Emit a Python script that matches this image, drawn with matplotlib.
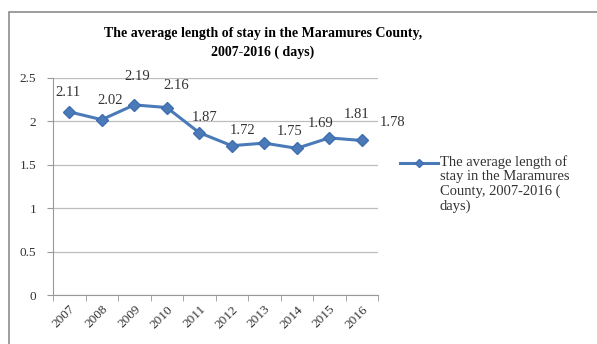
import matplotlib.pyplot as plt
from matplotlib.patches import Rectangle
from matplotlib.lines import Line2D

years = ["2007", "2008", "2009", "2010", "2011", "2012", "2013", "2014", "2015", "2016"]
stay = [2.11, 2.02, 2.19, 2.16, 1.87, 1.72, 1.75, 1.69, 1.81, 1.78]
# label offsets in points (dx, dy) relative to each marker
label_offsets = [(-1, 9), (6, 9), (2, 16), (7, 11), (4, 6), (8, 6), (18, 4), (17, 13), (20, 12), (22, 8)]

title = "The average length of stay in the Maramures County,\n2007-2016 ( days)"
legend_label = "The average length of\nstay in the Maramures\nCounty, 2007-2016 (\ndays)"

plt.rcParams["font.family"] = ["Liberation Serif", "DejaVu Serif"]

W, H = 597, 344
fig = plt.figure(figsize=(W / 100, H / 100), dpi=100)
fig.patches.append(Rectangle((9 / W, -0.1), 1.1, (H - 12) / H + 0.1,
                             transform=fig.transFigure, fill=False,
                             edgecolor="#8c8c8c", linewidth=1.2))

ax = fig.add_axes([53 / W, 49 / H, 325 / W, 217 / H])
x = list(range(len(years)))
style = dict(color="#4a7ab8", linewidth=2.2, marker="D", markersize=6,
             markeredgecolor="#3f6fae", markerfacecolor="#4a7ab8")
ax.plot(x, stay, **style)

for i, v in enumerate(stay):
    ax.annotate(f"{v:.2f}", (i, v), xytext=label_offsets[i], textcoords="offset points",
                ha="center", va="bottom", fontsize=10.5, color="#333333")

ax.set_xlim(-0.5, len(years) - 0.5)
ax.set_ylim(0, 2.5)
ax.set_yticks([0, 0.5, 1, 1.5, 2, 2.5])
ax.set_yticklabels(["0", "0.5", "1", "1.5", "2", "2.5"], fontsize=9.5, color="#333333")
ax.set_xticks(x)
ax.set_xticklabels(years, rotation=45, ha="right", rotation_mode="anchor", fontsize=9.5, color="#333333")
ax.set_xticks([i - 0.5 for i in range(len(years) + 1)], minor=True)
ax.tick_params(axis="x", which="major", length=0, pad=6)
ax.tick_params(axis="x", which="minor", length=4, color="#999999")
ax.tick_params(axis="y", length=4, color="#999999", pad=8)
ax.grid(axis="y", color="#bdbdbd", linewidth=0.9)
ax.set_axisbelow(True)
for s in ["top", "right"]:
    ax.spines[s].set_visible(False)
ax.spines["left"].set_color("#999999")
ax.spines["bottom"].set_color("#999999")

fig.text(263 / W, 1 - 43 / H, title, ha="center", va="center", fontsize=10,
         fontweight="bold", linespacing=1.45)

# legend key beside the first line of its label
key_y = 1 - 163 / H
fig.add_artist(Line2D([400 / W, 438 / W], [key_y, key_y], transform=fig.transFigure,
                      color="#4a7ab8", linewidth=2.2))
fig.add_artist(Line2D([419 / W], [key_y], transform=fig.transFigure,
                      marker="D", markersize=4.5, color="#4a7ab8", markeredgecolor="#3f6fae"))
fig.text(440 / W, 1 - 155 / H, legend_label, ha="left", va="top", fontsize=10.5,
         color="#333333", linespacing=1.15)

fig.savefig("out.png", dpi=100)
